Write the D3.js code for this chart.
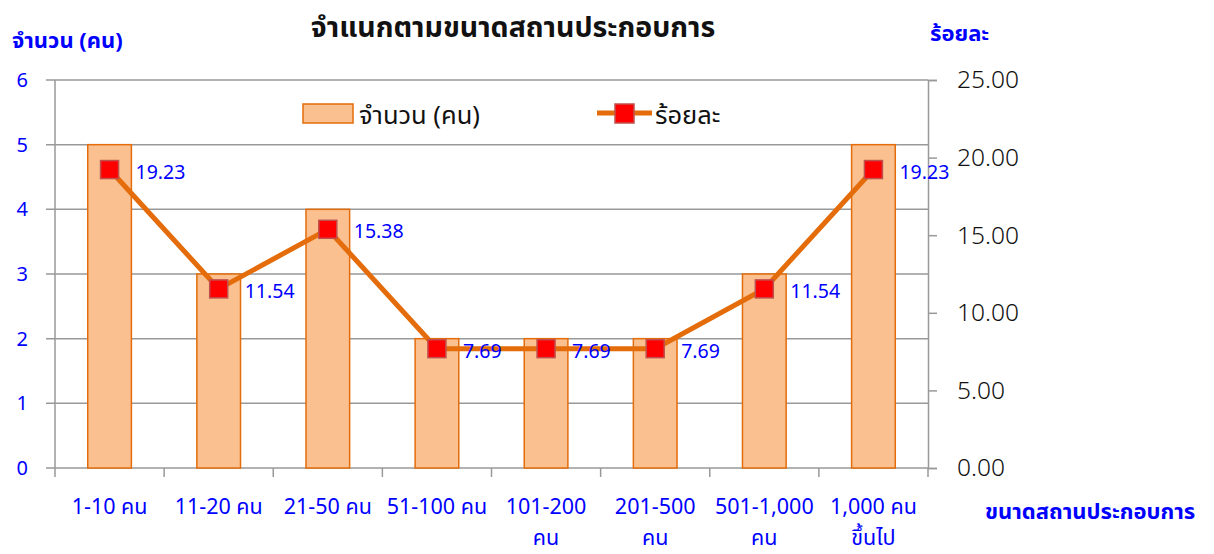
<!DOCTYPE html>
<html>
<head>
<meta charset="utf-8">
<script src="https://cdn.jsdelivr.net/npm/d3@7"></script>
<style>
  body { margin: 0; background: #fff; }
  svg { display: block; font-family: Tahoma, "Noto Sans Thai", "Noto Sans", sans-serif; }
</style>
</head>
<body>
<svg id="chart" width="1214" height="554"></svg>
<script>
// data
const categories = [
    ['1-10 คน'], ['11-20 คน'], ['21-50 คน'], ['51-100 คน'],
    ['101-200', 'คน'], ['201-500', 'คน'], ['501-1,000', 'คน'], ['1,000 คน', 'ขึ้นไป']
];
const counts = [5, 3, 4, 2, 2, 2, 3, 5];
const percents = [19.23, 11.54, 15.38, 7.69, 7.69, 7.69, 11.54, 19.23];
const countTicks = [0, 1, 2, 3, 4, 5, 6];
const percentTicks = [0, 5, 10, 15, 20, 25];

const svg = d3.select('#chart');
const margin = { left: 55, right: 1214 - 928, top: 80, bottom: 554 - 468 };
const W = 1214, H = 554;

const x = d3.scaleBand()
    .domain(d3.range(categories.length))
    .range([margin.left, W - margin.right])
    .paddingInner(0.6)
    .paddingOuter(0.3);
const xb = d3.scaleBand()
    .domain(d3.range(categories.length))
    .range([margin.left, W - margin.right]);
const yL = d3.scaleLinear().domain([0, 6]).range([H - margin.bottom, margin.top]);
const yR = d3.scaleLinear().domain([0, 25]).range([H - margin.bottom, margin.top]);

const grey = '#999';
const blue = '#0000ff';

// gridlines
svg.append('g')
    .selectAll('line')
    .data(countTicks)
    .join('line')
    .attr('x1', margin.left - 9)
    .attr('x2', W - margin.right)
    .attr('y1', d => yL(d))
    .attr('y2', d => yL(d))
    .attr('stroke', grey)
    .attr('stroke-width', 1.5);

// left axis line
svg.append('line')
    .attr('x1', margin.left).attr('x2', margin.left)
    .attr('y1', margin.top).attr('y2', H - margin.bottom)
    .attr('stroke', grey).attr('stroke-width', 1.5);

// left tick labels
svg.append('g')
    .selectAll('text')
    .data(countTicks)
    .join('text')
    .attr('x', 28)
    .attr('y', d => yL(d) + 7)
    .attr('text-anchor', 'end')
    .attr('fill', blue)
    .attr('font-size', 20)
    .text(d => d);

// right axis
const rAxis = svg.append('g')
    .attr('transform', `translate(${W - margin.right},0)`)
    .call(d3.axisRight(yR).tickValues(percentTicks).tickSize(9).tickPadding(20).tickFormat(d3.format('.2f')));
rAxis.select('.domain').attr('stroke', grey).attr('stroke-width', 1.5);
rAxis.selectAll('.tick line').attr('stroke', grey).attr('stroke-width', 1.5);
rAxis.selectAll('.tick text')
    .attr('fill', '#111')
    .attr('font-size', 24.5)
    .attr('font-family', '"Noto Sans", sans-serif')
    .attr('font-weight', 300);

// x ticks at band boundaries
svg.append('g')
    .selectAll('line')
    .data(d3.range(categories.length + 1))
    .join('line')
    .attr('x1', d => margin.left + d * xb.bandwidth())
    .attr('x2', d => margin.left + d * xb.bandwidth())
    .attr('y1', H - margin.bottom)
    .attr('y2', H - margin.bottom + 9)
    .attr('stroke', grey)
    .attr('stroke-width', 1.5);

// x labels
svg.append('g')
    .selectAll('text')
    .data(categories)
    .join('text')
    .attr('text-anchor', 'middle')
    .attr('fill', blue)
    .attr('font-size', 21.5)
    .each(function (lines, i) {
        d3.select(this).selectAll('tspan')
            .data(lines)
            .join('tspan')
            .attr('x', xb(i) + xb.bandwidth() / 2)
            .attr('y', (d, j) => 514 + j * 31)
            .text(d => d);
    });

// bars
svg.append('g')
    .selectAll('rect')
    .data(counts)
    .join('rect')
    .attr('x', (d, i) => x(i))
    .attr('y', d => yL(d))
    .attr('width', x.bandwidth())
    .attr('height', d => yL(0) - yL(d))
    .attr('fill', '#fac090')
    .attr('stroke', '#e46c0a')
    .attr('stroke-width', 1.5);

// line
const cx = i => xb(i) + xb.bandwidth() / 2;
svg.append('path')
    .datum(percents)
    .attr('fill', 'none')
    .attr('stroke', '#e46c0a')
    .attr('stroke-width', 5)
    .attr('d', d3.line().x((d, i) => cx(i)).y(d => yR(d)));

// markers
svg.append('g')
    .selectAll('rect')
    .data(percents)
    .join('rect')
    .attr('x', (d, i) => cx(i) - 9)
    .attr('y', d => yR(d) - 9)
    .attr('width', 18)
    .attr('height', 18)
    .attr('fill', '#ff0000')
    .attr('stroke', '#c0504d')
    .attr('stroke-width', 1.5);

// data labels
svg.append('g')
    .selectAll('text')
    .data(percents)
    .join('text')
    .attr('x', (d, i) => cx(i) + 26)
    .attr('y', d => yR(d) + 9)
    .attr('fill', blue)
    .attr('font-size', 19.5)
    .text(d => d3.format('.2f')(d));

// legend
const legend = svg.append('g');
legend.append('rect')
    .attr('x', 303).attr('y', 104).attr('width', 50).attr('height', 19)
    .attr('fill', '#fac090').attr('stroke', '#e46c0a').attr('stroke-width', 1.5);
legend.append('text')
    .attr('x', 359).attr('y', 124)
    .attr('font-size', 25.5).attr('fill', '#111')
    .text('จำนวน (คน)');
legend.append('line')
    .attr('x1', 597).attr('x2', 652).attr('y1', 113).attr('y2', 113)
    .attr('stroke', '#e46c0a').attr('stroke-width', 5);
legend.append('rect')
    .attr('x', 615).attr('y', 104).attr('width', 19).attr('height', 19)
    .attr('fill', '#ff0000').attr('stroke', '#c0504d').attr('stroke-width', 1.5);
legend.append('text')
    .attr('x', 655).attr('y', 124)
    .attr('font-size', 25.5).attr('fill', '#111')
    .text('ร้อยละ');

// titles
svg.append('text')
    .attr('x', 513).attr('y', 37)
    .attr('text-anchor', 'middle')
    .attr('font-size', 28.5).attr('font-weight', 'bold').attr('fill', '#111')
    .text('จำแนกตามขนาดสถานประกอบการ');
svg.append('text')
    .attr('x', 12).attr('y', 48)
    .attr('font-size', 22).attr('font-weight', 'bold').attr('fill', blue)
    .text('จำนวน (คน)');
svg.append('text')
    .attr('x', 930).attr('y', 41)
    .attr('font-size', 22).attr('font-weight', 'bold').attr('fill', blue)
    .text('ร้อยละ');
svg.append('text')
    .attr('x', 985).attr('y', 519)
    .attr('font-size', 22).attr('font-weight', 'bold').attr('fill', blue)
    .text('ขนาดสถานประกอบการ');
</script>
</body>
</html>
